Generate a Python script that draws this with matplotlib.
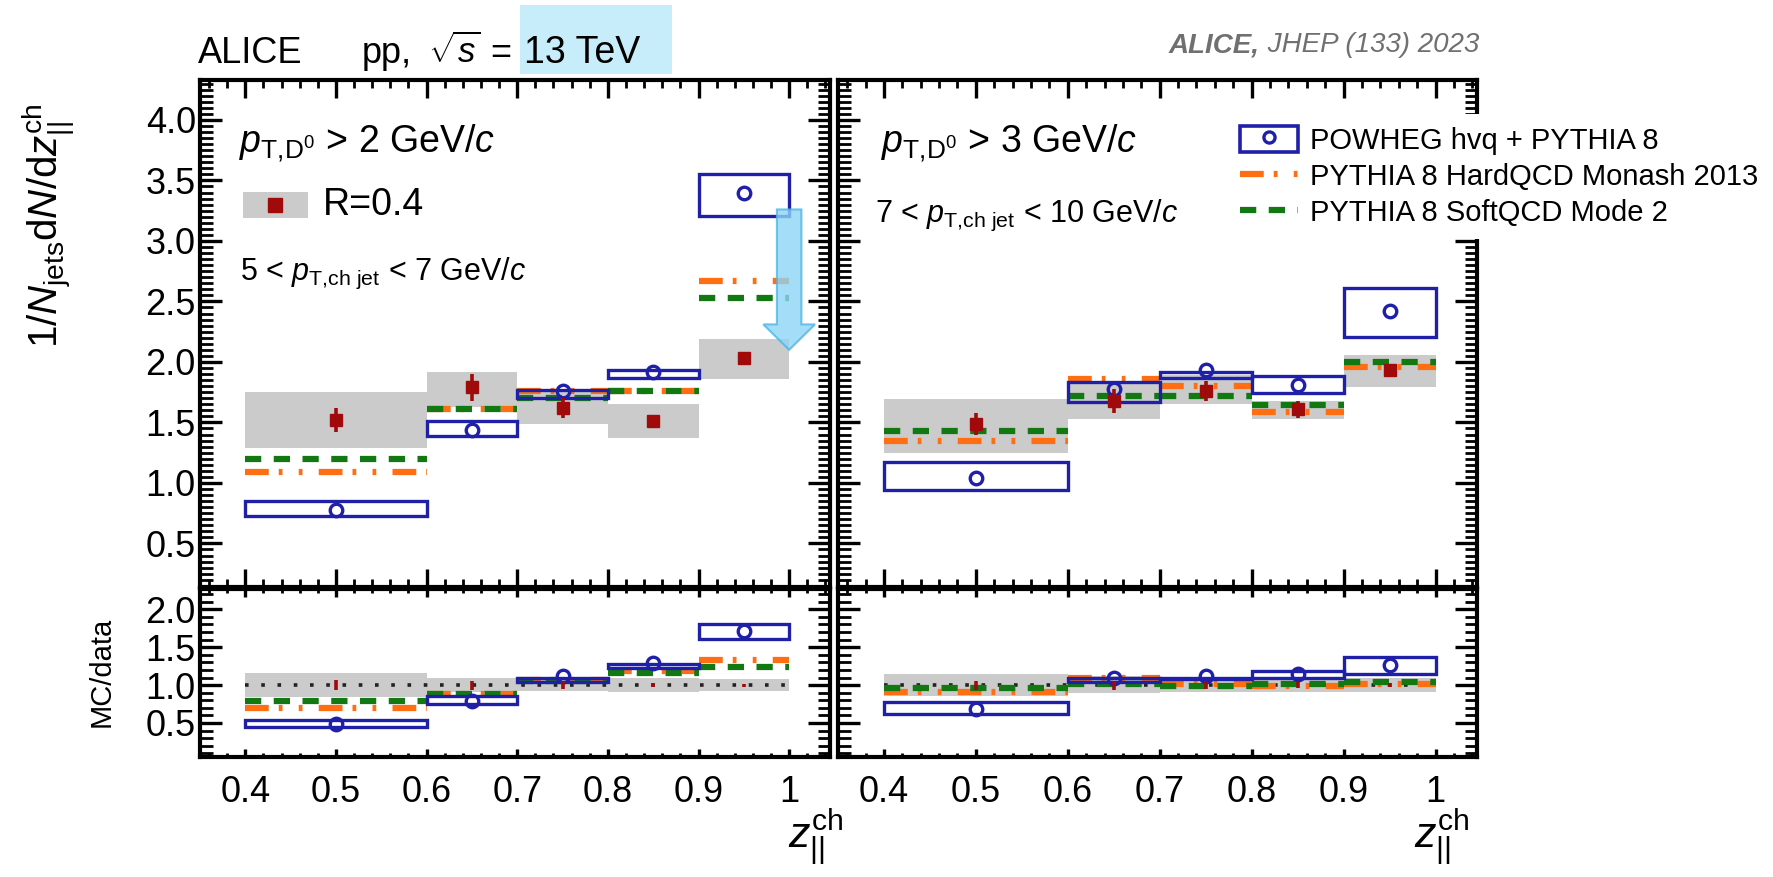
import matplotlib
matplotlib.use("Agg")
import matplotlib.pyplot as plt
from matplotlib.patches import Rectangle, FancyArrow, Patch
from matplotlib.lines import Line2D
from matplotlib.ticker import MultipleLocator, FuncFormatter, FormatStrFormatter

plt.rcParams['font.family'] = ['Liberation Sans', 'DejaVu Sans']
plt.rcParams['mathtext.fontset'] = 'custom'
plt.rcParams['mathtext.rm'] = 'Liberation Sans'
plt.rcParams['mathtext.it'] = 'Liberation Sans:italic'
plt.rcParams['mathtext.bf'] = 'Liberation Sans:bold'

# z bins
bin_lo = [0.4, 0.6, 0.7, 0.8, 0.9]
bin_hi = [0.6, 0.7, 0.8, 0.9, 1.0]
bin_mid = [0.5, 0.65, 0.75, 0.85, 0.95]

# left panel: pT,D0 > 2, 5 < pT,jet < 7
data_l = [1.52, 1.79, 1.62, 1.51, 2.03]
stat_l = [0.10, 0.11, 0.08, 0.05, 0.05]
syst_lo_l = [1.29, 1.63, 1.49, 1.375, 1.86]
syst_hi_l = [1.75, 1.92, 1.77, 1.65, 2.19]
powheg_l = [0.78, 1.44, 1.76, 1.92, 3.40]
powheg_lo_l = [0.73, 1.39, 1.70, 1.87, 3.21]
powheg_hi_l = [0.85, 1.51, 1.77, 1.93, 3.55]
monash_l = [1.09, 1.61, 1.76, 1.76, 2.67]
mode2_l = [1.20, 1.61, 1.70, 1.76, 2.53]

# left ratio MC/data
rstat_l = [0.065, 0.06, 0.05, 0.03, 0.02]
rsyst_lo_l = [0.84, 0.91, 0.92, 0.91, 0.92]
rsyst_hi_l = [1.16, 1.09, 1.08, 1.09, 1.08]
rpowheg_l = [0.49, 0.79, 1.12, 1.29, 1.71]
rpowheg_lo_l = [0.44, 0.75, 1.04, 1.23, 1.61]
rpowheg_hi_l = [0.54, 0.85, 1.10, 1.28, 1.80]
rmonash_l = [0.70, 0.88, 1.07, 1.18, 1.33]
rmode2_l = [0.79, 0.88, 1.05, 1.16, 1.24]

# right panel: pT,D0 > 3, 7 < pT,jet < 10
data_r = [1.49, 1.68, 1.76, 1.61, 1.93]
stat_r = [0.09, 0.10, 0.08, 0.07, 0.05]
syst_lo_r = [1.25, 1.53, 1.65, 1.53, 1.79]
syst_hi_r = [1.69, 1.83, 1.89, 1.68, 2.06]
powheg_r = [1.04, 1.78, 1.93, 1.81, 2.42]
powheg_lo_r = [0.94, 1.67, 1.87, 1.74, 2.21]
powheg_hi_r = [1.17, 1.83, 1.92, 1.88, 2.61]
monash_r = [1.35, 1.86, 1.80, 1.59, 1.96]
mode2_r = [1.43, 1.72, 1.72, 1.64, 2.00]

# right ratio MC/data
rstat_r = [0.06, 0.06, 0.05, 0.04, 0.03]
rsyst_lo_r = [0.85, 0.90, 0.91, 0.91, 0.91]
rsyst_hi_r = [1.15, 1.12, 1.10, 1.10, 1.10]
rpowheg_r = [0.69, 1.09, 1.12, 1.14, 1.26]
rpowheg_lo_r = [0.62, 1.04, 1.08, 1.09, 1.14]
rpowheg_hi_r = [0.78, 1.10, 1.10, 1.19, 1.37]
rmonash_r = [0.91, 1.10, 1.01, 0.99, 1.01]
rmode2_r = [0.96, 1.01, 0.99, 1.01, 1.04]

legend_labels = ['POWHEG hvq + PYTHIA 8', 'PYTHIA 8 HardQCD Monash 2013', 'PYTHIA 8 SoftQCD Mode 2']

BLUE = '#1f1fa8'
ORANGE = '#ff6e12'
GREEN = '#127812'
RED = '#a00a0a'
GRAY = '#cbcbcb'
ORANGE_LS = (0, (3.8, 1.6, 0.6, 2.6, 0.6, 2.6))
GREEN_LS = (0, (2.6, 2.0))


def boxes(ax, lo, hi, **kw):
    for i in range(len(bin_lo)):
        ax.add_patch(Rectangle((bin_lo[i], lo[i]), bin_hi[i] - bin_lo[i], hi[i] - lo[i], **kw))


def style_axes(ax, ratio, show_y):
    for s in ax.spines.values():
        s.set_linewidth(3)
    ax.set_xlim(0.35, 1.045)
    ax.xaxis.set_major_locator(MultipleLocator(0.1))
    ax.xaxis.set_minor_locator(MultipleLocator(0.02))
    ax.yaxis.set_major_locator(MultipleLocator(0.5))
    ax.tick_params(which='both', direction='in', top=True, right=True, labelsize=26)
    ax.tick_params(axis='y', which='major', length=16, width=2.4, pad=3)
    ax.tick_params(axis='y', which='minor', length=9, width=2)
    ax.yaxis.set_major_formatter(FormatStrFormatter('%.1f'))
    if ratio:
        ax.set_ylim(0.05, 2.27)
        ax.yaxis.set_minor_locator(MultipleLocator(0.1))
        ax.tick_params(axis='x', which='major', length=6, width=2.4, pad=13)
        ax.tick_params(axis='x', which='minor', length=3, width=2)
        ax.xaxis.set_major_formatter(FuncFormatter(lambda v, p: '1' if abs(v - 1) < 1e-6 else '%.1f' % v))
    else:
        ax.set_ylim(0.14, 4.33)
        ax.yaxis.set_minor_locator(MultipleLocator(0.05))
        ax.tick_params(axis='x', which='major', length=13, width=2.4, labelbottom=False)
        ax.tick_params(axis='x', which='minor', length=6, width=2)
    if not show_y:
        ax.tick_params(labelleft=False)


def draw_upper(ax, data, stat, slo, shi, pw, pwlo, pwhi, mon, m2):
    boxes(ax, slo, shi, facecolor=GRAY, edgecolor='none', zorder=1)
    ax.hlines(mon, bin_lo, bin_hi, colors=ORANGE, linestyles=[ORANGE_LS], lw=4.5, zorder=3)
    ax.hlines(m2, bin_lo, bin_hi, colors=GREEN, linestyles=[GREEN_LS], lw=4.5, zorder=3)
    boxes(ax, pwlo, pwhi, fill=False, edgecolor=BLUE, lw=2.4, zorder=4)
    ax.plot(bin_mid, pw, 'o', mfc='none', mec=BLUE, ms=9, mew=2.4, zorder=5)
    ax.errorbar(bin_mid, data, yerr=stat, fmt='s', color=RED, ms=9, elinewidth=2.6, capsize=0, zorder=6)


def draw_ratio(ax, rstat, slo, shi, pw, pwlo, pwhi, mon, m2):
    boxes(ax, slo, shi, facecolor=GRAY, edgecolor='none', zorder=1)
    ax.hlines(1.0, 0.4, 1.0, colors='#222222', linestyles=[(0, (1, 3.5))], lw=2.6, zorder=2)
    ax.hlines(mon, bin_lo, bin_hi, colors=ORANGE, linestyles=[ORANGE_LS], lw=4.5, zorder=3)
    ax.hlines(m2, bin_lo, bin_hi, colors=GREEN, linestyles=[GREEN_LS], lw=4.5, zorder=3)
    boxes(ax, pwlo, pwhi, fill=False, edgecolor=BLUE, lw=2.4, zorder=4)
    ax.plot(bin_mid, pw, 'o', mfc='none', mec=BLUE, ms=9, mew=2.4, zorder=5)
    ax.errorbar(bin_mid, [1.0] * len(bin_mid), yerr=rstat, fmt='none', ecolor=RED, elinewidth=2.6, capsize=0, zorder=6)


fig = plt.figure(figsize=(17.73, 8.77), dpi=100)

ax_ul = fig.add_axes([0.1128, 0.3307, 0.3553, 0.5781])
ax_ll = fig.add_axes([0.1128, 0.1368, 0.3553, 0.1917])
ax_ur = fig.add_axes([0.4726, 0.3307, 0.3604, 0.5781])
ax_lr = fig.add_axes([0.4726, 0.1368, 0.3604, 0.1917])

draw_upper(ax_ul, data_l, stat_l, syst_lo_l, syst_hi_l, powheg_l, powheg_lo_l, powheg_hi_l, monash_l, mode2_l)
draw_ratio(ax_ll, rstat_l, rsyst_lo_l, rsyst_hi_l, rpowheg_l, rpowheg_lo_l, rpowheg_hi_l, rmonash_l, rmode2_l)
draw_upper(ax_ur, data_r, stat_r, syst_lo_r, syst_hi_r, powheg_r, powheg_lo_r, powheg_hi_r, monash_r, mode2_r)
draw_ratio(ax_lr, rstat_r, rsyst_lo_r, rsyst_hi_r, rpowheg_r, rpowheg_lo_r, rpowheg_hi_r, rmonash_r, rmode2_r)

style_axes(ax_ul, False, True)
style_axes(ax_ll, True, True)
style_axes(ax_ur, False, False)
style_axes(ax_lr, True, False)

# panel texts
ax_ul.text(0.062, 0.858, r'$p_{\rm T{,}D^0}$ > 2 GeV/$c$', transform=ax_ul.transAxes, fontsize=27, va='baseline')
ax_ul.add_patch(Rectangle((0.068, 0.728), 0.103, 0.051, transform=ax_ul.transAxes, facecolor=GRAY, edgecolor='none'))
ax_ul.plot([0.1195], [0.7535], 's', color=RED, ms=10, transform=ax_ul.transAxes)
ax_ul.text(0.195, 0.7535, 'R=0.4', transform=ax_ul.transAxes, fontsize=27, va='center')
ax_ul.text(0.063, 0.605, r'5 < $p_{\rm T{,}ch\ jet}$ < 7 GeV/$c$', transform=ax_ul.transAxes, fontsize=22, va='baseline')

ax_ur.text(0.068, 0.858, r'$p_{\rm T{,}D^0}$ > 3 GeV/$c$', transform=ax_ur.transAxes, fontsize=27, va='baseline')
ax_ur.text(0.058, 0.72, r'7 < $p_{\rm T{,}ch\ jet}$ < 10 GeV/$c$', transform=ax_ur.transAxes, fontsize=22, va='baseline')

# highlight arrow on the last bin
ax_ul.add_patch(FancyArrow(1.0, 3.26, 0, -1.16, width=0.027, head_width=0.057, head_length=0.21,
                           length_includes_head=True, facecolor='#8ed5f5', edgecolor='#4db6e5',
                           lw=1.5, alpha=0.8, zorder=7))

# legend
handles = [
    (Patch(facecolor='none', edgecolor=BLUE, lw=2.6),
     Line2D([], [], marker='o', mfc='none', mec=BLUE, ms=8, mew=2.4, ls='none')),
    Line2D([], [], color=ORANGE, lw=4.5, ls=ORANGE_LS),
    Line2D([], [], color=GREEN, lw=4.5, ls=GREEN_LS),
]
fig.legend(handles, legend_labels, loc='upper left', bbox_to_anchor=(0.6926, 0.870),
           bbox_transform=fig.transFigure, fontsize=21, frameon=True, facecolor='white',
           edgecolor='none', framealpha=1, fancybox=False, borderpad=0.4, borderaxespad=0,
           handlelength=2.0, handleheight=1.0, handletextpad=0.4, labelspacing=0.25)

# axis titles
fig.text(0.027, 0.743, r'1/$N_{\rm jets}$d$N$/d$z_{||}^{\rm ch}$', rotation=90, ha='center', va='center', fontsize=29)
fig.text(0.0575, 0.234, 'MC/data', rotation=90, ha='center', va='center', fontsize=21)
fig.text(0.4755, 0.034, r'$z_{||}^{\rm ch}$', ha='right', va='baseline', fontsize=31)
fig.text(0.8291, 0.034, r'$z_{||}^{\rm ch}$', ha='right', va='baseline', fontsize=31)

# header
fig.patches.append(Rectangle((520 / 1773, 1 - 74 / 877), 152 / 1773, 69 / 877, transform=fig.transFigure,
                             facecolor='#c6edf9', edgecolor='none', zorder=0))
fig.text(198 / 1773, 0.928, 'ALICE', fontsize=26, va='baseline')
fig.text(362 / 1773, 0.928, 'pp,', fontsize=26, va='baseline')
fig.text(428 / 1773, 0.928, r'$\sqrt{s}$', fontsize=25, va='baseline')
fig.text(490 / 1773, 0.928, '=', fontsize=26, va='baseline')
fig.text(524 / 1773, 0.928, '13 TeV', fontsize=27, va='baseline')

ref = fig.text(0.8342, 0.9407, ' JHEP (133) 2023', fontsize=20, style='italic', color='#707070', ha='right', va='baseline')
fig.canvas.draw()
bb = ref.get_window_extent()
x0 = bb.x0 / fig.bbox.width
fig.text(x0, 0.9407, 'ALICE,', fontsize=20, style='italic', weight='bold', color='#707070', ha='right', va='baseline')

fig.savefig('out.png', dpi=100)
